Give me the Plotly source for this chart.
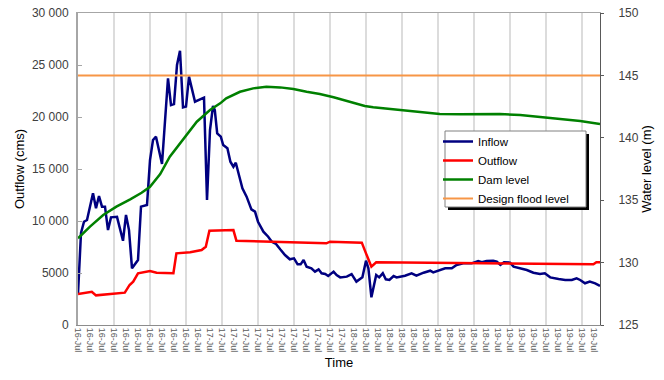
import plotly.graph_objects as go

# ---------------- data (hours after 16-Jul 02:00) ----------------
inflow_hours = [0, 0.5, 1.0, 1.5, 2.5, 3.0, 3.5, 4.0, 4.5, 5.0, 5.5, 6.5, 7.5, 8.0, 8.5, 9.0,
                10.0, 10.5, 11.5, 12.0, 12.5, 13.0, 14.0, 15.0, 15.5, 16.0, 16.5, 17.0, 17.5,
                18.0, 18.5, 19.5, 21.0, 21.5, 22.0, 22.5, 22.8, 23.2, 23.8, 24.2, 24.9, 25.4,
                25.9, 26.3, 26.9, 27.4, 28.1, 28.9, 29.5, 30.0, 30.9, 31.7, 32.3, 33.0, 33.7,
                34.5, 35.3, 36.0, 36.6, 37.1, 37.6, 38.1, 38.9, 39.5, 40.1, 40.6, 41.2, 41.7,
                42.6, 43.1, 43.7, 44.8, 45.6, 46.4, 47.4, 48.0, 48.4, 48.9, 49.7, 50.2, 50.8,
                51.3, 51.9, 52.6, 53.1, 53.7, 54.5, 55.6, 56.4, 57.6, 58.7, 59.2, 60.1, 61.2,
                62.3, 63.1, 64.2, 65.6, 66.7, 67.3, 68.1, 69.2, 69.8, 70.4, 71.0, 72.0, 72.6,
                73.7, 74.8, 75.9, 77.0, 77.8, 78.7, 80.1, 81.2, 82.3, 83.1, 83.7, 84.5, 85.3,
                86.2, 87.0]
inflow_cms = [3000, 8850, 9930, 10100, 12660, 11220, 12400, 11380, 11380, 9130, 10350, 10400,
              8100, 10580, 9130, 5450, 6250, 11380, 11540, 15860, 17790, 18110, 15480, 23720,
              21150, 21250, 25000, 26370, 20930, 21000, 23880, 21470, 21860, 12020, 18750,
              21060, 20670, 18430, 18110, 17310, 16990, 15700, 15220, 15600, 14260, 13140,
              12340, 11120, 10900, 9930, 8970, 8490, 8010, 7790, 7280, 6730, 6320, 6410, 5830,
              5830, 6250, 5610, 5450, 5130, 5350, 4970, 4900, 4710, 5130, 4810, 4580, 4650,
              4900, 4170, 4580, 6180, 5450, 2660, 4810, 4580, 4970, 4390, 4330, 4710, 4580,
              4650, 4740, 4970, 4740, 5030, 5220, 5060, 5220, 5450, 5450, 5770, 5930, 5930,
              6150, 6030, 6150, 6180, 6090, 5770, 6030, 6000, 5610, 5450, 5290, 5030, 4900,
              4970, 4580, 4420, 4330, 4330, 4490, 4330, 4010, 4170, 4010, 3750]

outflow_hours = [0, 2.3, 3.0, 7.8, 8.6, 9.2, 10.0, 12.0, 13.1, 15.9, 16.4, 18.7, 20.6, 21.3,
                 21.9, 25.9, 26.4, 31.4, 41.4, 42.0, 47.3, 48.0, 48.9, 49.7, 85.9, 86.4, 87.0]
outflow_cms = [2980, 3200, 2850, 3110, 3850, 4170, 4970, 5190, 5030, 4970, 6890, 6990, 7210,
               7530, 9070, 9130, 8110, 8010, 7850, 8010, 7920, 6890, 5610, 6030, 5830, 6030,
               6030]

dam_hours = [0, 2.0, 4.2, 6.4, 8.7, 10.6, 12.0, 13.7, 15.3, 17.6, 19.8, 22.0, 23.7, 24.7,
             27.0, 29.2, 31.4, 33.7, 35.9, 38.1, 40.3, 42.6, 44.8, 47.0, 47.8, 49.2, 51.5,
             53.7, 57.0, 60.3, 63.7, 67.0, 70.3, 73.7, 77.0, 80.3, 83.7, 87.0]
dam_level_m = [131.95, 132.88, 133.81, 134.48, 135.07, 135.6, 136.08, 137.1, 138.49, 139.96,
               141.29, 142.23, 142.76, 143.16, 143.69, 143.96, 144.09, 144.04, 143.91, 143.69,
               143.51, 143.25, 142.95, 142.63, 142.55, 142.44, 142.33, 142.2, 142.01, 141.91,
               141.88, 141.9, 141.9, 141.83, 141.69, 141.51, 141.35, 141.11]

design_flood_hours = [0, 87.0]
design_flood_level_m = [145, 145]

x_tick_hours = list(range(0, 87, 2))
x_tick_labels = ["16-Jul"] * 11 + ["17-Jul"] * 12 + ["18-Jul"] * 12 + ["19-Jul"] * 9
x_grid_hours = list(range(0, 85, 6))
x_range = [0, 87.0]

y_left_ticks = [0, 5000, 10000, 15000, 20000, 25000, 30000]
y_left_labels = ["0", "5000", "10 000", "15 000", "20 000", "25 000", "30 000"]
y_right_ticks = [125, 130, 135, 140, 145, 150]

FONT = "Liberation Sans, Arial, sans-serif"

fig = go.Figure()
fig.add_trace(go.Scatter(x=inflow_hours, y=inflow_cms, name="Inflow", mode="lines",
                         line=dict(color="#000080", width=2.5), legendrank=1))
fig.add_trace(go.Scatter(x=outflow_hours, y=outflow_cms, name="Outflow", mode="lines",
                         line=dict(color="#FF0000", width=2.5), legendrank=2))
fig.add_trace(go.Scatter(x=design_flood_hours, y=design_flood_level_m, name="Design flood level",
                         mode="lines", xaxis="x2", yaxis="y2",
                         line=dict(color="#F79646", width=2), legendrank=4))
fig.add_trace(go.Scatter(x=dam_hours, y=dam_level_m, name="Dam level", mode="lines",
                         yaxis="y2", line=dict(color="#008000", width=2.5), legendrank=3))

# legend box with drop shadow (decoration)
def px_x(p):
    return (p - 78) / 522.0

def px_y(p):
    return (325 - p) / 312.0

shapes = [
    dict(type="rect", xref="paper", yref="paper", layer="above",
         x0=px_x(448), x1=px_x(589), y0=px_y(134), y1=px_y(210),
         fillcolor="black", line=dict(width=0)),
    dict(type="rect", xref="paper", yref="paper", layer="above",
         x0=px_x(445), x1=px_x(586), y0=px_y(131), y1=px_y(207),
         fillcolor="white", line=dict(color="#808080", width=1)),
]

fig.update_layout(
    width=664, height=380,
    margin=dict(l=78, r=64, t=13, b=55),
    paper_bgcolor="white", plot_bgcolor="white",
    font=dict(family=FONT, size=12, color="black"),
    showlegend=True,
    legend=dict(x=px_x(438), y=px_y(127), xanchor="left", yanchor="top",
                bgcolor="rgba(0,0,0,0)", borderwidth=0,
                font=dict(size=11.5, color="black"), tracegroupgap=0,
                itemwidth=30),
    shapes=shapes,
    xaxis=dict(range=x_range, tickmode="array", tickvals=x_tick_hours, ticktext=x_tick_labels,
               tickangle=90, tickfont=dict(size=9, color="#595959"), automargin=False,
               showgrid=False, zeroline=False, showline=True, linecolor="#8c8c8c",
               linewidth=1, ticks="",
               title=dict(text="Time", font=dict(size=13), standoff=6)),
    xaxis2=dict(range=x_range, overlaying="x", side="top", tickmode="array",
                tickvals=x_grid_hours, showticklabels=False, ticks="", automargin=False,
                showgrid=True, gridcolor="#dcdcdc", gridwidth=1.5,
                showline=True, linecolor="#a6a6a6", linewidth=1, zeroline=False),
    yaxis=dict(range=[0, 30000], tickmode="array", tickvals=y_left_ticks, ticktext=y_left_labels,
               showgrid=False, zeroline=False, showline=True, linecolor="#a6a6a6", linewidth=2,
               ticks="inside", ticklen=4, tickcolor="#a6a6a6", automargin=False,
               tickfont=dict(size=12, color="#404040"), ticklabelstandoff=5,
               title=dict(text="Outflow (cms)", font=dict(size=13), standoff=4)),
    yaxis2=dict(range=[125, 150], overlaying="y", side="right", tickmode="array",
                tickvals=y_right_ticks, showgrid=False, zeroline=False, showline=True,
                linecolor="#595959", linewidth=1, ticks="outside", ticklen=3, automargin=False,
                tickcolor="#595959", tickfont=dict(size=12, color="#404040"),
                ticklabelstandoff=12,
                title=dict(text="Water level (m)", font=dict(size=13), standoff=2)),
)

fig.write_html("out.html", config={"displayModeBar": False},
               post_script="document.body.style.margin='0';")
